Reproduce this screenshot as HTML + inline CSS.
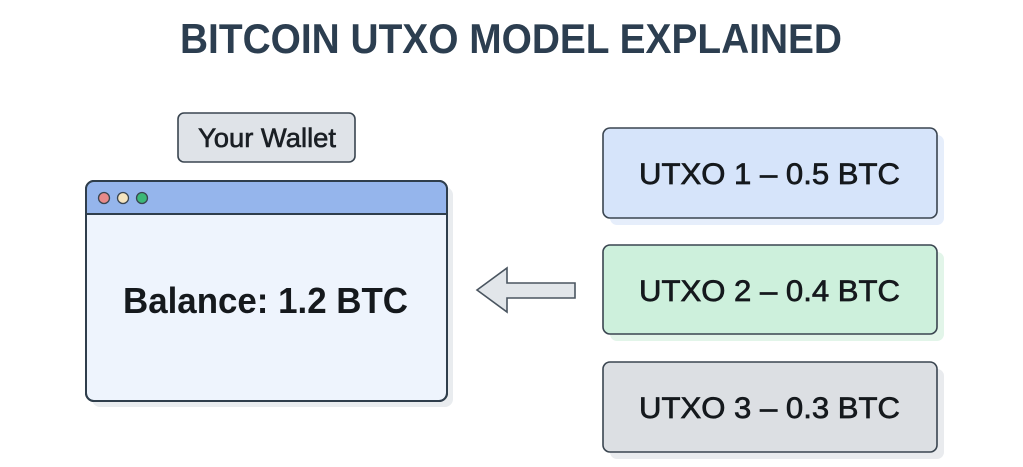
<!DOCTYPE html>
<html>
<head>
<meta charset="utf-8">
<style>
  html,body{margin:0;padding:0;background:#ffffff;}
  body{width:1023px;height:467px;overflow:hidden;}
  svg{display:block;}
  text{font-family:"Liberation Sans", Arial, sans-serif;}
</style>
</head>
<body>
<svg width="1023" height="467" viewBox="0 0 1023 467" xmlns="http://www.w3.org/2000/svg">
  <rect x="0" y="0" width="1023" height="467" fill="#ffffff"/>

  <!-- Title -->
  <text x="180" y="53" font-size="42" font-weight="bold" fill="#2c3e50" textLength="662" lengthAdjust="spacingAndGlyphs">BITCOIN UTXO MODEL EXPLAINED</text>

  <!-- Your Wallet label -->
  <rect x="178" y="113" width="177" height="49" rx="6" fill="#dfe3e8" stroke="#3a4550" stroke-width="1.6"/>
  <text x="198" y="147" font-size="27" fill="#1a1f24" stroke="#1a1f24" stroke-width="0.6" textLength="138" lengthAdjust="spacingAndGlyphs">Your Wallet</text>

  <!-- Window shadow -->
  <rect x="92" y="187" width="361" height="220" rx="8" fill="#e9ecef"/>
  <!-- Window -->
  <rect x="86" y="181" width="361" height="220" rx="8" fill="#eef4fd" stroke="#2f3e4c" stroke-width="2"/>
  <path d="M87,214 L87,189 Q87,182 94,182 L439,182 Q446,182 446,189 L446,214 Z" fill="#95b5ec"/>
  <line x1="86" y1="214" x2="447" y2="214" stroke="#2f3e4c" stroke-width="2"/>
  <rect x="86" y="181" width="361" height="220" rx="8" fill="none" stroke="#2f3e4c" stroke-width="2"/>
  <circle cx="104" cy="198" r="5.5" fill="#e88a8a" stroke="#3a4550" stroke-width="1.3"/>
  <circle cx="123" cy="198" r="5.5" fill="#f5e4c0" stroke="#3a4550" stroke-width="1.3"/>
  <circle cx="142" cy="198" r="5.5" fill="#3cb878" stroke="#3a4550" stroke-width="1.3"/>
  <text x="123" y="313" font-size="36" font-weight="bold" fill="#15191d" textLength="285" lengthAdjust="spacingAndGlyphs">Balance: 1.2 BTC</text>

  <!-- Arrow -->
  <path d="M477,290 L507,268 L507,283 L575,283 L575,298 L507,298 L507,312 Z" fill="#e2e6ea" stroke="#4a5560" stroke-width="1.6" stroke-linejoin="miter"/>

  <!-- UTXO 1 -->
  <rect x="610" y="135" width="334" height="90" rx="7" fill="#e6eefb"/>
  <rect x="603" y="128" width="334" height="90" rx="7" fill="#d6e4fa" stroke="#3a4550" stroke-width="1.6"/>
  <text x="639" y="184" font-size="30" fill="#15191d" stroke="#15191d" stroke-width="0.7" textLength="261" lengthAdjust="spacingAndGlyphs">UTXO 1 – 0.5 BTC</text>

  <!-- UTXO 2 -->
  <rect x="610" y="252" width="334" height="89" rx="7" fill="#e2f5e9"/>
  <rect x="603" y="245" width="334" height="89" rx="7" fill="#cdf0dc" stroke="#3a4550" stroke-width="1.6"/>
  <text x="639" y="301" font-size="30" fill="#15191d" stroke="#15191d" stroke-width="0.7" textLength="261" lengthAdjust="spacingAndGlyphs">UTXO 2 – 0.4 BTC</text>

  <!-- UTXO 3 -->
  <rect x="610" y="369" width="334" height="90" rx="7" fill="#e9ebee"/>
  <rect x="603" y="362" width="334" height="90" rx="7" fill="#dcdfe3" stroke="#3a4550" stroke-width="1.6"/>
  <text x="639" y="418" font-size="30" fill="#15191d" stroke="#15191d" stroke-width="0.7" textLength="261" lengthAdjust="spacingAndGlyphs">UTXO 3 – 0.3 BTC</text>
</svg>
</body>
</html>
